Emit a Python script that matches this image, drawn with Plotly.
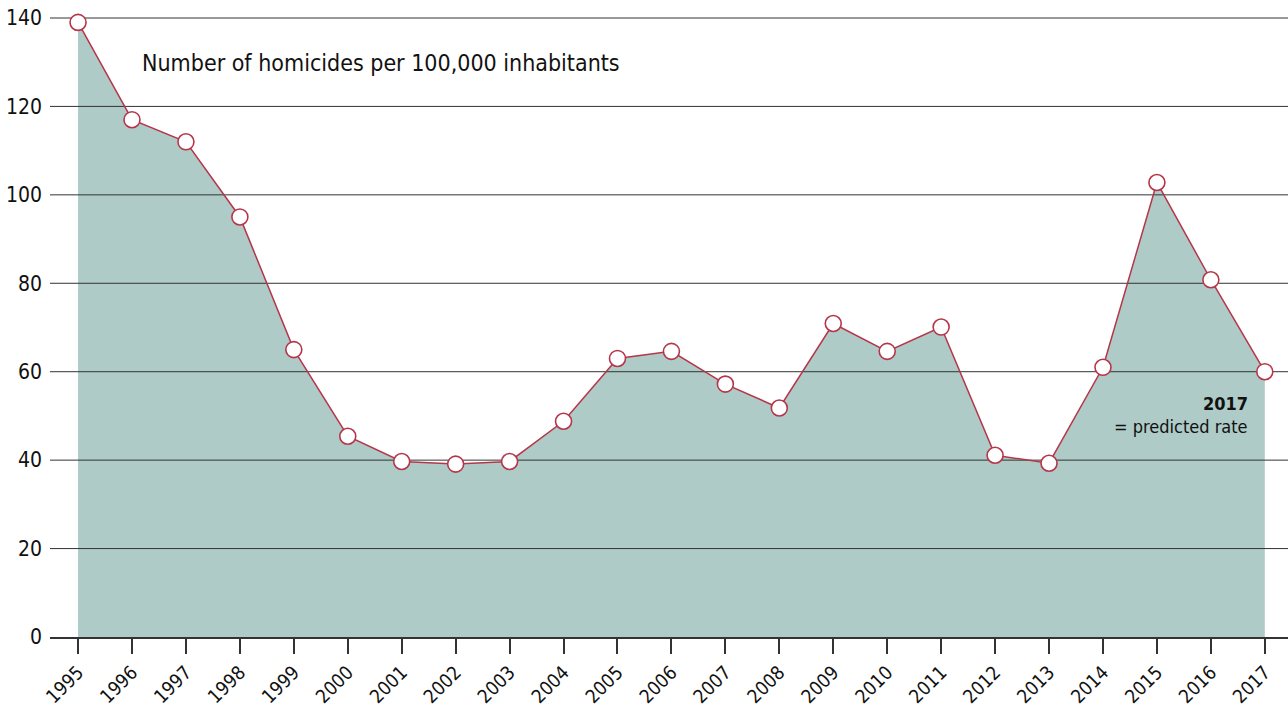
import plotly.graph_objects as go

years = list(range(1995, 2018))
rates = [139, 117, 112, 95, 65, 45.4, 39.7, 39.1, 39.7, 48.8, 63, 64.6, 57.2,
         51.8, 70.9, 64.6, 70.1, 41.1, 39.3, 61, 102.8, 80.8, 60]
y_ticks = [0, 20, 40, 60, 80, 100, 120, 140]

FONT = "DejaVu Sans Condensed, Liberation Sans Narrow, Arial Narrow, sans-serif"
FILL = "#aecbc7"
LINE = "#b5364a"
GRID = "#333333"

x_range = [1994.48, 2017.43]
y_range = [0, 144.07]

fig = go.Figure()
# area fill
fig.add_trace(go.Scatter(x=years, y=rates, mode="lines", fill="tozeroy",
                         fillcolor=FILL, line=dict(width=0, color=FILL),
                         hoverinfo="skip", showlegend=False))
# gridlines drawn above the fill
gx, gy = [], []
for t in y_ticks[1:]:
    gx += [x_range[0], x_range[1], None]
    gy += [t, t, None]
fig.add_trace(go.Scatter(x=gx, y=gy, mode="lines", line=dict(color=GRID, width=1),
                         hoverinfo="skip", showlegend=False, cliponaxis=False))
# line with markers
fig.add_trace(go.Scatter(x=years, y=rates, mode="lines+markers",
                         line=dict(color=LINE, width=1.5),
                         marker=dict(size=16, color="white", line=dict(color=LINE, width=1.6)),
                         showlegend=False, cliponaxis=False))

fig.add_annotation(x=1996.15, y=129.8, text="Number of homicides per 100,000 inhabitants",
                   showarrow=False, xanchor="left", yanchor="middle",
                   font=dict(family=FONT, size=23, color="#111"))
fig.add_annotation(x=2016.72, y=52.9, text="<b>2017</b>", showarrow=False,
                   xanchor="right", yanchor="middle", font=dict(family=FONT, size=18, color="#111"))
fig.add_annotation(x=2016.72, y=47.6, text="= predicted rate", showarrow=False,
                   xanchor="right", yanchor="middle", font=dict(family=FONT, size=18, color="#111"))

fig.update_layout(
    width=1288, height=706,
    margin=dict(l=50, r=0, t=0, b=69),
    plot_bgcolor="white", paper_bgcolor="white",
    font=dict(family=FONT, color="#111"),
    xaxis=dict(range=x_range, tickmode="array", tickvals=years, ticktext=[str(y) for y in years],
               tickangle=-45, ticks="outside", ticklen=15, tickcolor=GRID, tickwidth=1.5,
               showgrid=False, zeroline=False, showline=True, linecolor=GRID, linewidth=1.5,
               automargin=False,
               tickfont=dict(family=FONT, size=19, color="#111"), fixedrange=True),
    yaxis=dict(range=y_range, tickmode="array", tickvals=y_ticks, showgrid=False,
               zeroline=False, showline=False, ticks="", ticklabelstandoff=7,
               automargin=False,
               tickfont=dict(family=FONT, size=21, color="#111"), fixedrange=True),
)

fig.write_html("out.html", config={"displayModeBar": False},
               post_script="document.body.style.margin='0';document.body.style.overflow='hidden';")
